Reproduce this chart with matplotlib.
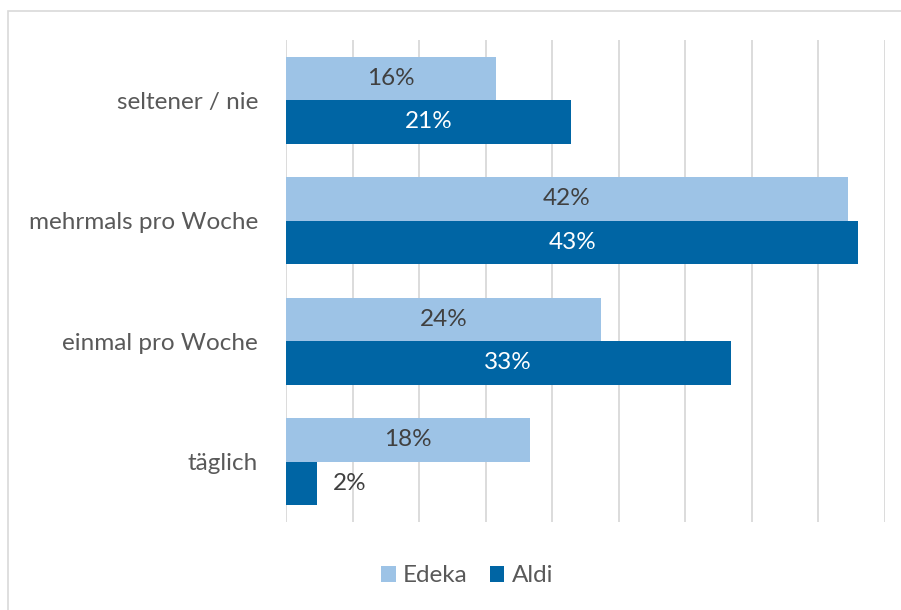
import matplotlib.pyplot as plt
from matplotlib.patches import Rectangle

categories = ["täglich", "einmal pro Woche", "mehrmals pro Woche", "seltener / nie"]
edeka = [18.3, 23.7, 42.2, 15.8]
aldi = [2.3, 33.4, 43.0, 21.4]
edeka_labels = ["18%", "24%", "42%", "16%"]
aldi_labels = ["2%", "33%", "43%", "21%"]

light = "#9DC3E6"
dark = "#0065A4"
txt = "#404040"
fs = 17.5

plt.rcParams['font.family'] = ['Lato', 'DejaVu Sans']

fig = plt.figure(figsize=(9.01, 6.10), dpi=100)
ax = fig.add_axes([0.3174, 0.1443, 0.6648, 0.7902])

# chart border
fig.patches.append(Rectangle((8 / 901, -0.05), 1.0, (610 - 11) / 610 + 0.05,
                             transform=fig.transFigure, fill=False,
                             edgecolor="#D9D9D9", linewidth=1.2))

h = 0.361
y = list(range(len(categories)))
b1 = ax.barh([v + h / 2 for v in y], edeka, height=h, color=light, label="Edeka", zorder=2)
b2 = ax.barh([v - h / 2 for v in y], aldi, height=h, color=dark, label="Aldi", zorder=2)

for bar, lab in zip(b1, edeka_labels):
    ax.text(bar.get_width() / 2, bar.get_y() + bar.get_height() / 2, lab,
            ha="center", va="center", color=txt, fontsize=fs)
for bar, lab in zip(b2, aldi_labels):
    w = bar.get_width()
    if w < 5:
        ax.text(w + 1.25, bar.get_y() + bar.get_height() / 2, lab,
                ha="left", va="center", color=txt, fontsize=fs)
    else:
        ax.text(w / 2, bar.get_y() + bar.get_height() / 2, lab,
                ha="center", va="center", color="white", fontsize=fs)

ax.set_xlim(0, 45)
ax.set_ylim(-0.5, 3.5)
ax.set_xticks(range(0, 46, 5))
ax.set_xticklabels([])
ax.tick_params(axis="x", length=0)
ax.tick_params(axis="y", length=0, pad=20, labelsize=fs, labelcolor="#595959")
ax.set_yticks(y)
ax.set_yticklabels(categories)
ax.grid(axis="x", color="#D9D9D9", linewidth=1.3, zorder=0)
ax.set_axisbelow(True)
for s in ax.spines.values():
    s.set_visible(False)

fig.legend(handles=[b1, b2], labels=["Edeka", "Aldi"], loc="center",
           bbox_to_anchor=(467 / 901, 1 - 576 / 610), ncol=2, frameon=False,
           fontsize=fs, labelcolor="#595959", handlelength=0.6, handleheight=0.6,
           handletextpad=0.3, columnspacing=0.9)

fig.savefig("out.png", dpi=100)
